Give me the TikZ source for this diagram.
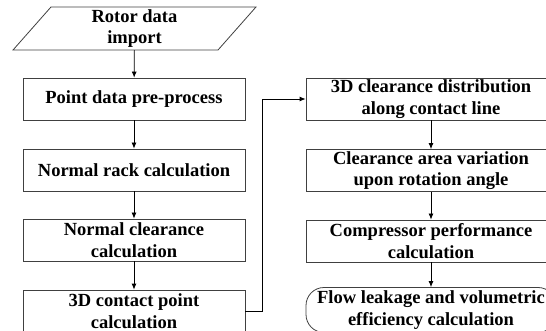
\documentclass[tikz,border=0pt]{standalone}
\usepackage{fontspec}
\setmainfont{Liberation Serif}
\usetikzlibrary{positioning, arrows.meta, shapes.geometric}
\tikzset{
  stage/.style={rectangle, draw=black!75, line width=0.8pt, minimum width=222pt, minimum height=42pt, inner sep=0pt, align=center, font=\fontsize{18.5}{21.5}\selectfont\bfseries},
  wide stage/.style={stage, minimum width=250pt},
  import box/.style={stage, trapezium, trapezium left angle=63, trapezium right angle=117, trapezium stretches=true, minimum width=243pt, minimum height=43pt},
  result box/.style={wide stage, rounded corners=18pt, minimum height=45pt},
  flow/.style={-{Latex[length=6pt,width=5pt]}, line width=0.8pt}
}
\begin{document}
\begin{tikzpicture}[x=1pt, y=-1pt]
  \clip (0,0) rectangle (546,331);
  \useasboundingbox (0,0) rectangle (546,331);
  % left column
  \node[import box] (import) at (134.5,28.5) {Rotor data\\import};
  \node[stage] (preproc) at (134,99) {Point data pre-process};
  \node[stage] (rack) at (134,170) {Normal rack calculation};
  \node[stage] (normclear) at (134,240) {Normal clearance\\calculation};
  \node[stage] (contact) at (134,311) {3D contact point\\calculation};
  % right column
  \node[wide stage] (distrib) at (431,99) {3D clearance distribution\\along contact line};
  \node[wide stage] (area) at (431,170.5) {Clearance area variation\\upon rotation angle};
  \node[wide stage] (perf) at (431,241) {Compressor performance\\calculation};
  \node[result box] (leakage) at (431,310) {Flow leakage and volumetric\\efficiency calculation};
  % connectors
  \draw[flow] (import) -- (preproc);
  \draw[flow] (preproc) -- (rack);
  \draw[flow] (rack) -- (normclear);
  \draw[flow] (normclear) -- (contact);
  \draw[flow] (contact.east) -- ++(17,0) |- (distrib.west);
  \draw[flow] (distrib) -- (area);
  \draw[flow] (area) -- (perf);
  \draw[flow] (perf) -- (leakage);
\end{tikzpicture}
\end{document}
